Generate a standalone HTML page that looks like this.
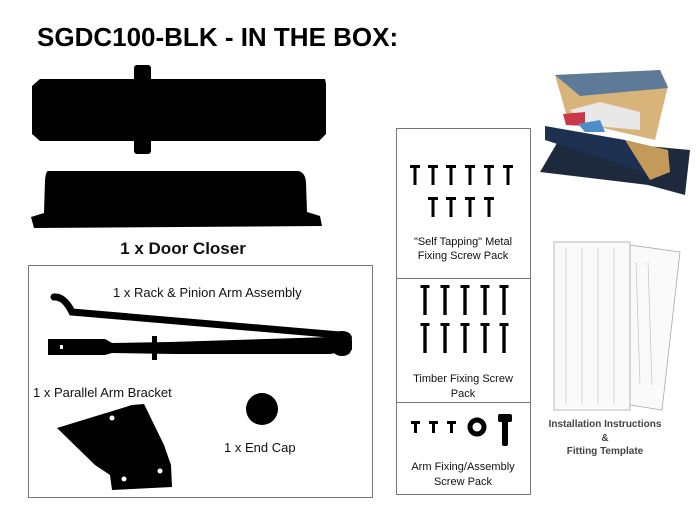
<!DOCTYPE html>
<html><head><style>
body{margin:0;background:#fff;}
svg{display:block;font-family:"Liberation Sans",sans-serif;}
</style></head><body>
<svg width="700" height="525" viewBox="0 0 700 525">
<defs>
<g id="s1"><rect x="-5" y="0" width="10" height="3"/><rect x="-1.5" y="0" width="3" height="20"/></g>
<g id="s2"><rect x="-4.5" y="0" width="9" height="3"/><rect x="-1.7" y="0" width="3.4" height="30"/></g>
</defs>
<rect width="700" height="525" fill="#fff"/>
<text x="37" y="46" font-size="26" font-weight="bold" fill="#000">SGDC100-BLK - IN THE BOX:</text>
<polygon points="40,79 325,79 326,84 326,134 319,141 40,141 32,134 32,86" fill="#000"/>
<rect x="134" y="65" width="17" height="89" rx="3" fill="#000"/>
<path d="M48,171 L298,171 Q305,172 306,182 L307,212 L320,216 L322,226 L34,228 L31,217 L44,213 L45,180 Q46,171 48,171 Z" fill="#000"/>
<text x="183" y="254" font-size="17" font-weight="bold" text-anchor="middle" fill="#111">1 x Door Closer</text>
<rect x="28.5" y="265.5" width="344" height="232" fill="none" stroke="#777" stroke-width="1"/>
<text x="113" y="297" font-size="13" fill="#111">1 x Rack &amp; Pinion Arm Assembly</text>
<path d="M54,297 Q64,296 72,312 L340,335" stroke="#000" stroke-width="7" fill="none" stroke-linecap="round"/>
<path d="M48,339 L105,339 L112,343 L170,342 L330,337 L352,340 L352,350 L330,354 L175,354 L112,353 L105,355 L48,355 Z" fill="#000"/>
<rect x="152" y="336" width="5" height="24" fill="#000"/>
<ellipse cx="342" cy="338" rx="10" ry="7" fill="#000"/>
<ellipse cx="342" cy="350" rx="9" ry="6" fill="#000"/>
<rect x="60" y="345" width="3" height="4" fill="#fff"/>
<text x="33" y="397" font-size="13" fill="#111">1 x Parallel Arm Bracket</text>
<polygon points="57,428 132,405 144,404 164,445 171,465 172,487 112,490 110,475 95,465" fill="#000"/>
<circle cx="112" cy="418" r="2.5" fill="#fff"/>
<circle cx="124" cy="479" r="2.5" fill="#fff"/>
<circle cx="160" cy="471" r="2.5" fill="#fff"/>
<circle cx="262" cy="409" r="16" fill="#000"/>
<text x="224" y="452" font-size="13" fill="#111">1 x End Cap</text>
<rect x="396.5" y="128.5" width="134" height="366" fill="none" stroke="#777"/>
<line x1="396" y1="278.5" x2="531" y2="278.5" stroke="#777"/>
<line x1="396" y1="402.5" x2="531" y2="402.5" stroke="#777"/>
<g fill="#000">
<use href="#s1" x="415" y="165"/><use href="#s1" x="433" y="165"/><use href="#s1" x="451" y="165"/><use href="#s1" x="470" y="165"/><use href="#s1" x="489" y="165"/><use href="#s1" x="508" y="165"/>
<use href="#s1" x="433" y="197"/><use href="#s1" x="451" y="197"/><use href="#s1" x="470" y="197"/><use href="#s1" x="489" y="197"/>
<use href="#s2" x="425" y="285"/><use href="#s2" x="445" y="285"/><use href="#s2" x="465" y="285"/><use href="#s2" x="485" y="285"/><use href="#s2" x="504" y="285"/>
<use href="#s2" x="425" y="323"/><use href="#s2" x="445" y="323"/><use href="#s2" x="465" y="323"/><use href="#s2" x="485" y="323"/><use href="#s2" x="504" y="323"/>
</g>
<text x="463" y="245" font-size="11" text-anchor="middle" fill="#111">"Self Tapping" Metal</text>
<text x="463" y="259" font-size="11" text-anchor="middle" fill="#111">Fixing Screw Pack</text>
<text x="463" y="382" font-size="11" text-anchor="middle" fill="#111">Timber Fixing Screw</text>
<text x="463" y="397" font-size="11" text-anchor="middle" fill="#111">Pack</text>
<g fill="#000">
<rect x="411" y="421" width="9" height="3"/><rect x="414" y="421" width="3" height="12"/>
<rect x="429" y="421" width="9" height="3"/><rect x="432" y="421" width="3" height="12"/>
<rect x="447" y="421" width="9" height="3"/><rect x="450" y="421" width="3" height="12"/>
</g>
<circle cx="477" cy="427" r="7" fill="none" stroke="#000" stroke-width="5"/>
<rect x="498" y="414" width="14" height="8" rx="2" fill="#000"/>
<rect x="502" y="414" width="6" height="32" rx="2" fill="#000"/>
<text x="463" y="470" font-size="11" text-anchor="middle" fill="#111">Arm Fixing/Assembly</text>
<text x="463" y="485" font-size="11" text-anchor="middle" fill="#111">Screw Pack</text>
<polygon points="540,172 560,138 690,150 685,195 648,185" fill="#1d2a3d"/>
<polygon points="545,126 625,140 665,150 662,178 545,140" fill="#1e3050"/>
<polygon points="625,140 668,150 670,172 650,180" fill="#c49a5a"/>
<polygon points="555,75 660,70 668,86 655,140 568,120" fill="#d8b47a"/>
<polygon points="555,75 660,70 668,88 580,96" fill="#5e7a99"/>
<polygon points="570,110 600,102 640,112 640,130 585,125" fill="#e8e8e8"/>
<polygon points="563,114 585,112 585,126 566,125" fill="#c8384a"/>
<polygon points="578,124 600,120 605,132 585,132" fill="#4e8ec8"/>
<g stroke="#aaa" fill="#fafafa" stroke-width="0.8">
<rect x="554" y="242" width="76" height="168"/>
<polygon points="630,245 680,252 662,410 630,405"/>
</g>
<g stroke="#bbb" stroke-width="0.6">
<line x1="566" y1="248" x2="566" y2="405"/><line x1="582" y1="248" x2="582" y2="405"/><line x1="598" y1="248" x2="598" y2="405"/><line x1="614" y1="248" x2="614" y2="405"/>
<line x1="636" y1="262" x2="640" y2="385"/><line x1="648" y1="262" x2="652" y2="385"/>
</g>
<text x="605" y="427" font-size="10" font-weight="bold" text-anchor="middle" fill="#444">Installation Instructions</text>
<text x="605" y="441" font-size="10" font-weight="bold" text-anchor="middle" fill="#444">&amp;</text>
<text x="605" y="454" font-size="10" font-weight="bold" text-anchor="middle" fill="#444">Fitting Template</text>
</svg>
</body></html>
